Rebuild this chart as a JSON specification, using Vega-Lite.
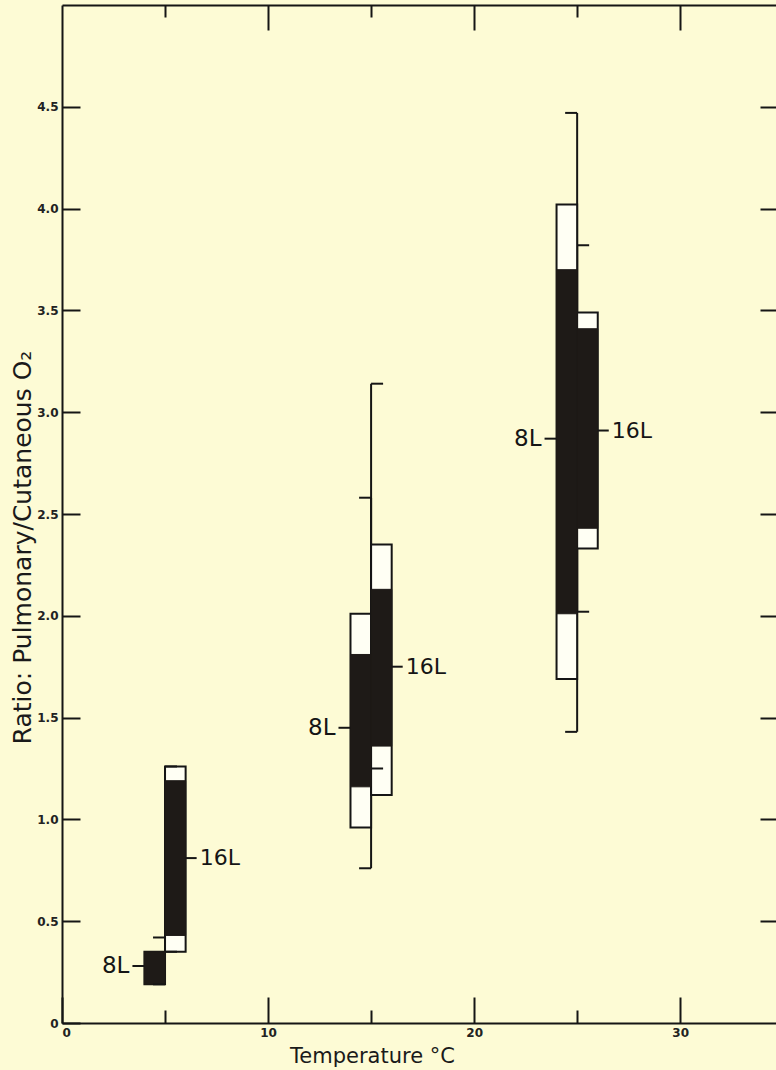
{
  "$schema": "https://vega.github.io/schema/vega-lite/v6.json",
  "width": 714,
  "height": 1018,
  "autosize": {"type": "none"},
  "padding": {"left": 62, "top": 5, "right": 0, "bottom": 47},
  "background": "#fdfbd5",
  "config": {
    "view": {"stroke": null},
    "axis": {
      "grid": false,
      "domainColor": "#151515",
      "tickColor": "#151515",
      "domainWidth": 2,
      "tickWidth": 2,
      "labelFont": "DejaVu Sans",
      "labelFontWeight": "bold",
      "labelFontSize": 12,
      "labelColor": "#222222",
      "titleFont": "DejaVu Sans",
      "titleFontWeight": "normal",
      "titleColor": "#1a1a1a"
    }
  },
  "data": {
    "values": [
      {"series": "8L", "x0": 4, "x1": 5, "mid": 5, "box_lo": 0.19, "box_hi": 0.35, "dark_lo": 0.19, "dark_hi": 0.35, "wmin": 0.19, "wmax": 0.42, "mean": 0.28},
      {"series": "16L", "x0": 5, "x1": 6, "mid": 5, "box_lo": 0.35, "box_hi": 1.26, "dark_lo": 0.43, "dark_hi": 1.19, "wmin": 0.35, "wmax": 1.26, "mean": 0.81},
      {"series": "8L", "x0": 14, "x1": 15, "mid": 15, "box_lo": 0.96, "box_hi": 2.01, "dark_lo": 1.16, "dark_hi": 1.81, "wmin": 0.76, "wmax": 2.58, "mean": 1.45},
      {"series": "16L", "x0": 15, "x1": 16, "mid": 15, "box_lo": 1.12, "box_hi": 2.35, "dark_lo": 1.36, "dark_hi": 2.13, "wmin": 1.25, "wmax": 3.14, "mean": 1.75},
      {"series": "8L", "x0": 24, "x1": 25, "mid": 25, "box_lo": 1.69, "box_hi": 4.02, "dark_lo": 2.01, "dark_hi": 3.7, "wmin": 1.43, "wmax": 4.47, "mean": 2.87},
      {"series": "16L", "x0": 25, "x1": 26, "mid": 25, "box_lo": 2.33, "box_hi": 3.49, "dark_lo": 2.43, "dark_hi": 3.41, "wmin": 2.02, "wmax": 3.82, "mean": 2.91}
    ]
  },
  "resolve": {"axis": {"x": "independent", "y": "independent"}},
  "layer": [
    {
      "mark": {"type": "rule", "color": "#151515", "strokeWidth": 2},
      "encoding": {
        "x": {"field": "mid", "type": "quantitative", "scale": {"domain": [0, 34.65], "nice": false, "zero": false},
          "axis": {"orient": "bottom", "values": [0, 10, 20, 30], "tickSize": -26, "labelPadding": 30, "domain": true,
            "title": "Temperature °C", "titleFontSize": 21, "titleX": 310, "titleY": 33, "titleAlign": "center", "titleBaseline": "middle"}},
        "y": {"field": "wmin", "type": "quantitative", "scale": {"domain": [0, 5], "nice": false, "zero": true},
          "axis": {"orient": "left", "values": [0, 0.5, 1, 1.5, 2, 2.5, 3, 3.5, 4, 4.5], "tickSize": -18, "labelPadding": 22, "domain": true,
            "labelExpr": "datum.value == 0 ? '0' : format(datum.value, '.1f')",
            "title": "Ratio: Pulmonary/Cutaneous O₂", "titleFontSize": 25, "titleX": -40, "titleY": 542, "titleAngle": 270, "titleAlign": "center", "titleBaseline": "middle"}},
        "y2": {"field": "wmax"}
      }
    },
    {
      "mark": {"type": "rect", "fill": "#fffff4", "stroke": "#151515", "strokeWidth": 2},
      "encoding": {
        "x": {"field": "x0", "type": "quantitative", "axis": {"orient": "bottom", "values": [5, 15, 25], "tickSize": -13, "labels": false, "domain": false, "title": null}},
        "x2": {"field": "x1"},
        "y": {"field": "box_lo", "type": "quantitative", "axis": {"orient": "right", "values": [0.5, 1, 1.5, 2, 2.5, 3, 3.5, 4, 4.5], "tickSize": -16, "labels": false, "domain": false, "title": null}},
        "y2": {"field": "box_hi"}
      }
    },
    {
      "mark": {"type": "rect", "fill": "#1e1a17", "stroke": "#1e1a17", "strokeWidth": 1},
      "encoding": {
        "x": {"field": "x0", "type": "quantitative", "axis": {"orient": "top", "values": [10, 20, 30], "tickSize": -25, "labels": false, "domain": true, "title": null}},
        "x2": {"field": "x1"},
        "y": {"field": "dark_lo", "type": "quantitative", "axis": null},
        "y2": {"field": "dark_hi"}
      }
    },
    {
      "transform": [{"filter": "datum.series == '8L'"}, {"fold": ["wmin", "wmax"], "as": ["k", "wv"]}],
      "mark": {"type": "rule", "color": "#151515", "strokeWidth": 2, "x2Offset": -12},
      "encoding": {
        "x": {"field": "mid", "type": "quantitative", "axis": {"orient": "top", "values": [5, 15, 25], "tickSize": -12, "labels": false, "domain": false, "title": null}},
        "x2": {"field": "mid"},
        "y": {"field": "wv", "type": "quantitative", "axis": null}
      }
    },
    {
      "transform": [{"filter": "datum.series == '16L'"}, {"fold": ["wmin", "wmax"], "as": ["k", "wv"]}],
      "mark": {"type": "rule", "color": "#151515", "strokeWidth": 2, "x2Offset": 12},
      "encoding": {
        "x": {"field": "mid", "type": "quantitative", "axis": null},
        "x2": {"field": "mid"},
        "y": {"field": "wv", "type": "quantitative", "axis": null}
      }
    },
    {
      "transform": [{"filter": "datum.series == '8L'"}],
      "mark": {"type": "rule", "color": "#151515", "strokeWidth": 2, "x2Offset": -12},
      "encoding": {
        "x": {"field": "x0", "type": "quantitative", "axis": null},
        "x2": {"field": "x0"},
        "y": {"field": "mean", "type": "quantitative", "axis": null}
      }
    },
    {
      "transform": [{"filter": "datum.series == '16L'"}],
      "mark": {"type": "rule", "color": "#151515", "strokeWidth": 2, "x2Offset": 11},
      "encoding": {
        "x": {"field": "x1", "type": "quantitative", "axis": null},
        "x2": {"field": "x1"},
        "y": {"field": "mean", "type": "quantitative", "axis": null}
      }
    },
    {
      "transform": [{"filter": "datum.series == '8L'"}],
      "mark": {"type": "text", "align": "right", "baseline": "middle", "dx": -15, "font": "DejaVu Sans", "fontSize": 23, "color": "#151515"},
      "encoding": {
        "x": {"field": "x0", "type": "quantitative", "axis": null},
        "y": {"field": "mean", "type": "quantitative", "axis": null},
        "text": {"field": "series"}
      }
    },
    {
      "transform": [{"filter": "datum.series == '16L'"}],
      "mark": {"type": "text", "align": "left", "baseline": "middle", "dx": 14, "font": "DejaVu Sans", "fontSize": 22, "color": "#151515"},
      "encoding": {
        "x": {"field": "x1", "type": "quantitative", "axis": null},
        "y": {"field": "mean", "type": "quantitative", "axis": null},
        "text": {"field": "series"}
      }
    }
  ]
}
